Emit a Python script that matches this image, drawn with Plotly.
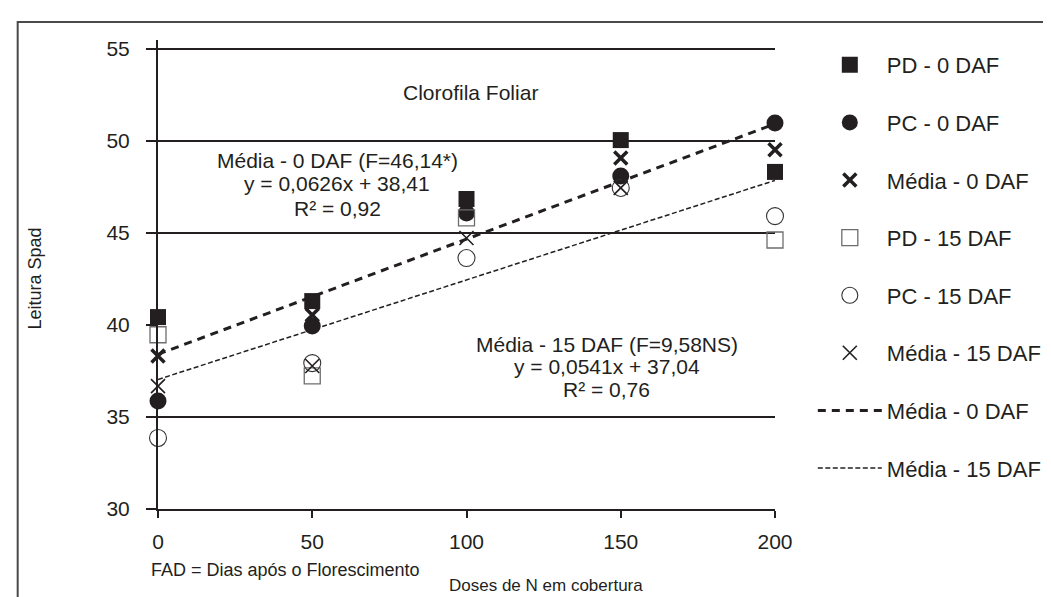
import plotly.graph_objects as go

# ---------------- data ----------------
doses = [0, 50, 100, 150, 200]
pd_0daf = [40.43, 41.30, 46.85, 50.05, 48.32]
pc_0daf = [35.87, 39.95, 46.09, 48.10, 50.98]
media_0daf = [38.32, 40.54, 46.47, 49.08, 49.53]
pd_15daf = [39.47, 37.23, 45.82, None, 44.62]
pc_15daf = [33.86, 37.93, 43.64, 47.45, 45.92]
media_15daf = [36.68, 37.77, 44.73, 47.45, None]

# regression coefficients (slope, intercept) as printed on the chart
reg_0daf = (0.0626, 38.41)
reg_15daf = (0.0541, 37.04)
line_x = [0, 200]

y_ticks = [30, 35, 40, 45, 50, 55]
grid_levels = [35, 45, 50, 55]
x_ticks = [0, 50, 100, 150, 200]

# ---------------- layout helpers (pixel -> paper) ----------------
L, R, T, B = 150, 770, 32, 501
W, H = 1051, 597
def px(x):
    return (x - L) / (R - L)
def py(y):
    return (B - y) / (B - T)

FONT = "Arial, Liberation Sans, sans-serif"
INK = "#231f20"

fig = go.Figure()

fig.add_trace(go.Scatter(x=doses, y=pd_0daf, mode="markers", name="PD - 0 DAF",
                         legendgroup="a",
                         marker=dict(symbol="square", size=16, color=INK,
                                     line=dict(width=0)), cliponaxis=False))
fig.add_trace(go.Scatter(x=doses, y=pc_0daf, mode="markers", name="PC - 0 DAF",
                         legendgroup="b",
                         marker=dict(symbol="circle", size=17, color=INK,
                                     line=dict(width=0)), cliponaxis=False))
fig.add_trace(go.Scatter(x=doses, y=media_0daf, mode="markers", name="Média - 0 DAF",
                         legendgroup="c",
                         marker=dict(symbol="x-thin", size=13, color=INK,
                                     line=dict(width=3.5, color=INK)), cliponaxis=False))
fig.add_trace(go.Scatter(x=doses, y=pd_15daf, mode="markers", name="PD - 15 DAF",
                         legendgroup="d",
                         marker=dict(symbol="square-open", size=16, color="#6d6d6d",
                                     line=dict(width=1.3, color="#6d6d6d")), cliponaxis=False))
fig.add_trace(go.Scatter(x=doses, y=pc_15daf, mode="markers", name="PC - 15 DAF",
                         legendgroup="e",
                         marker=dict(symbol="circle-open", size=17, color="#333333",
                                     line=dict(width=1.1, color="#333333")), cliponaxis=False))
fig.add_trace(go.Scatter(x=doses, y=media_15daf, mode="markers", name="Média - 15 DAF",
                         legendgroup="f",
                         marker=dict(symbol="x-thin", size=14, color=INK,
                                     line=dict(width=1.6, color=INK)), cliponaxis=False))

fig.add_trace(go.Scatter(x=line_x, y=[reg_0daf[0] * v + reg_0daf[1] for v in line_x],
                         mode="lines", name="Média - 0 DAF", legendgroup="g",
                         line=dict(color=INK, width=3, dash="8px,6px"), cliponaxis=False))
fig.add_trace(go.Scatter(x=line_x, y=[reg_15daf[0] * v + reg_15daf[1] for v in line_x],
                         mode="lines", name="Média - 15 DAF", legendgroup="h",
                         line=dict(color=INK, width=1.5, dash="5px,2.5px"), cliponaxis=False))

shapes = []
for g in grid_levels:
    shapes.append(dict(type="line", xref="x", yref="y", x0=0, x1=200, y0=g, y1=g,
                       line=dict(color=INK, width=2), layer="below"))
# outer frame
shapes.append(dict(type="rect", xref="paper", yref="paper",
                   x0=px(9), x1=px(1070), y0=py(14), y1=py(620),
                   line=dict(color="#4a4a4a", width=2)))

annotations = []
def text(x, y, s, size=21, angle=0):
    annotations.append(dict(x=px(x), y=py(y), xref="paper", yref="paper", text=s,
                            showarrow=False, xanchor="center", yanchor="middle",
                            textangle=angle, font=dict(family=FONT, size=size, color=INK)))

text(464, 85, "Clorofila Foliar")
text(330, 152, "Média - 0 DAF (F=46,14*)")
text(330, 176, "y = 0,0626x + 38,41")
text(330, 200, "R² = 0,92")
text(601, 336, "Média - 15 DAF (F=9,58NS)")
text(601, 359, "y = 0,0541x + 37,04")
text(601, 382, "R² = 0,76")
text(278, 562, "FAD = Dias após o Florescimento", size=18)
text(540, 577, "Doses de N em cobertura", size=17)
text(26, 271, "Leitura Spad", size=18, angle=-90)

fig.update_layout(
    width=W, height=H,
    margin=dict(l=L, r=W - R, t=T, b=H - B),
    paper_bgcolor="white", plot_bgcolor="white",
    font=dict(family=FONT, color=INK),
    shapes=shapes, annotations=annotations,
    showlegend=True,
    legend=dict(x=px(808), y=py(36), xanchor="left", yanchor="top",
                font=dict(family=FONT, size=22, color=INK),
                itemwidth=64, tracegroupgap=26, bgcolor="rgba(0,0,0,0)",
                itemsizing="trace"),
    xaxis=dict(range=[0, 200], tickvals=x_ticks, showgrid=False, zeroline=False,
               showline=True, linecolor=INK, linewidth=2,
               ticks="outside", ticklen=7, tickwidth=2, tickcolor=INK,
               ticklabelstandoff=6,
               tickfont=dict(family=FONT, size=21, color=INK)),
    yaxis=dict(range=[30, 55.49], tickvals=y_ticks, showgrid=False, zeroline=False,
               showline=True, linecolor=INK, linewidth=2,
               ticks="outside", ticklen=10, tickwidth=2, tickcolor=INK,
               ticklabelstandoff=12,
               tickfont=dict(family=FONT, size=21, color=INK)),
)

fig.write_html("out.html")
